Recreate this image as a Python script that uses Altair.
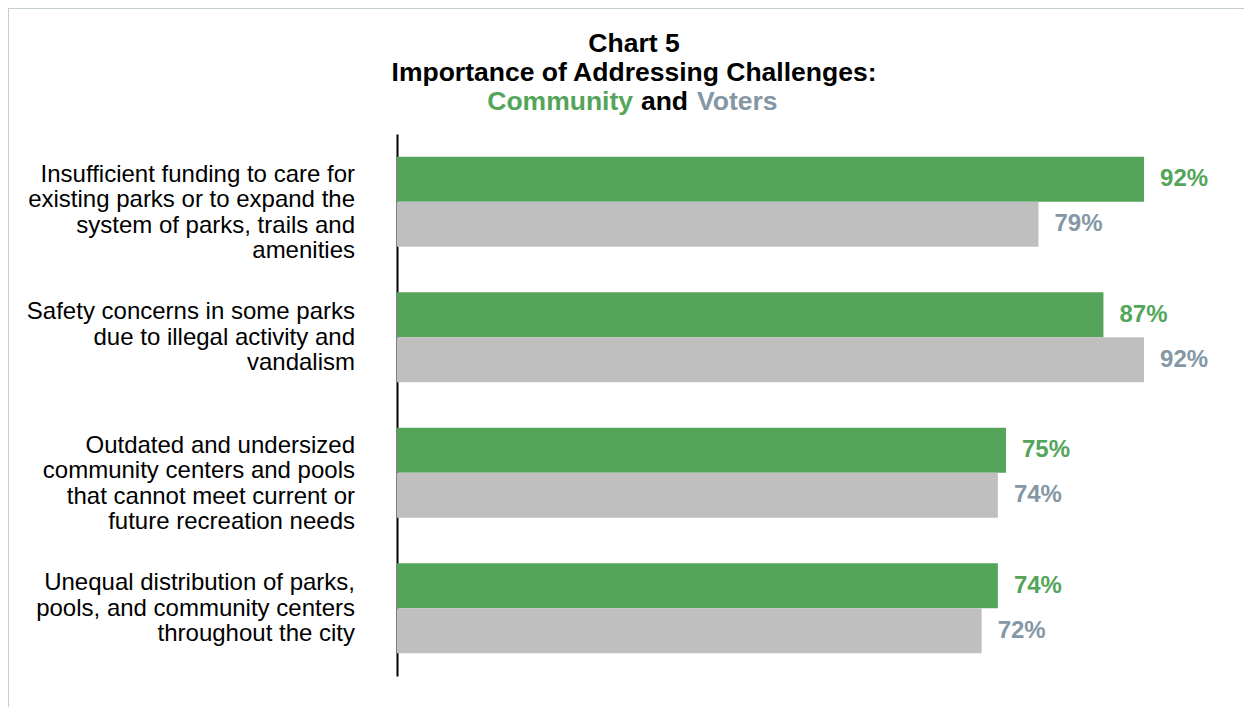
import altair as alt
import pandas as pd

categories = [
    "Insufficient funding to care for\nexisting parks or to expand the\nsystem of parks, trails and\namenities",
    "Safety concerns in some parks\ndue to illegal activity and\nvandalism",
    "Outdated and undersized\ncommunity centers and pools\nthat cannot meet current or\nfuture recreation needs",
    "Unequal distribution of parks,\npools, and community centers\nthroughout the city",
]
series = ["Community", "Voters"]
community = [92, 87, 75, 74]
voters = [79, 92, 74, 72]
title_lines = ["Chart 5", "Importance of Addressing Challenges:"]

GREEN = "#54a55a"
GREY_BAR = "#bfbfbf"
GREY_TXT = "#8597a5"
FONT = "Liberation Sans"
TFS = 26.5

rows = []
for c, a, b in zip(categories, community, voters):
    rows.append({"category": c, "series": "Community", "value": a})
    rows.append({"category": c, "series": "Voters", "value": b})
df = pd.DataFrame(rows)
df["label"] = df["value"].astype(str) + "%"

W, H = 812, 542

y_enc = alt.Y(
    "category:N",
    sort=categories,
    scale=alt.Scale(paddingInner=0.336, paddingOuter=0.168),
    axis=alt.Axis(labels=False, ticks=False, title=None, domain=True,
                  domainColor="black", domainWidth=2, grid=False),
)
yoff = alt.YOffset("series:N", sort=series, scale=alt.Scale(paddingInner=0, paddingOuter=0))
x_enc = alt.X("value:Q", scale=alt.Scale(domain=[0, 100], nice=False), axis=None)

base = alt.Chart(df)

bars = base.mark_bar().encode(
    y=y_enc,
    yOffset=yoff,
    x=x_enc,
    color=alt.Color("series:N", scale=alt.Scale(domain=series, range=[GREEN, GREY_BAR]), legend=None),
)

values = base.mark_text(align="left", baseline="middle", dx=16, font=FONT,
                        fontSize=24, fontWeight="bold").encode(
    y=y_enc,
    yOffset=yoff,
    x=x_enc,
    text="label:N",
    color=alt.condition(alt.datum.series == "Community", alt.value(GREEN), alt.value(GREY_TXT)),
)

cat_df = pd.DataFrame({"category": categories})
cat_base = alt.Chart(cat_df).transform_calculate(
    nlines="length(split(datum.category, '\\n'))"
)

def cat_layer(n, dy):
    return cat_base.transform_filter(alt.datum.nlines == n).mark_text(
        align="right", baseline="middle", font=FONT, fontSize=24, lineHeight=25.5,
        lineBreak="\n", color="black", dy=dy
    ).encode(
        y=alt.Y("category:N", sort=categories),
        x=alt.value(-42),
        text="category:N",
    )

cat4 = cat_layer(4, -27)
cat3 = cat_layer(3, -25)

def tline(txt, x, y, align, color):
    return alt.Chart(pd.DataFrame({"t": [txt]})).mark_text(
        align=align, baseline="middle", font=FONT, fontSize=TFS, fontWeight="bold", color=color
    ).encode(text="t:N", x=alt.value(x), y=alt.value(y))

title1 = tline(title_lines[0], 237, -90, "center", "black")
title2 = tline(title_lines[1], 237, -61, "center", "black")
t3a = tline("Community", 236, -32, "right", GREEN)
t3b = tline("and", 267.5, -32, "center", "black")
t3c = tline("Voters", 300, -32, "left", GREY_TXT)

border_left = alt.Chart(pd.DataFrame({"a": [0]})).mark_rule(color="#c3cdd4", strokeWidth=2).encode(
    x=alt.value(-389), y=alt.value(-126), y2=alt.value(H + 40))
border_top = alt.Chart(pd.DataFrame({"a": [0]})).mark_rule(color="#c3cdd4", strokeWidth=2).encode(
    x=alt.value(-389), x2=alt.value(W + 40), y=alt.value(-126))

chart = alt.layer(
    border_left, border_top, bars, values, cat4, cat3, title1, title2, t3a, t3b, t3c
).properties(
    width=W, height=H,
    autosize=alt.AutoSizeParams(type="none"),
    padding={"left": 389, "top": 126, "right": 35, "bottom": 31},
).configure(background="white").configure_view(strokeWidth=0, stroke="transparent")

chart.save("out.html", embed_options={"renderer": "svg", "actions": False})
